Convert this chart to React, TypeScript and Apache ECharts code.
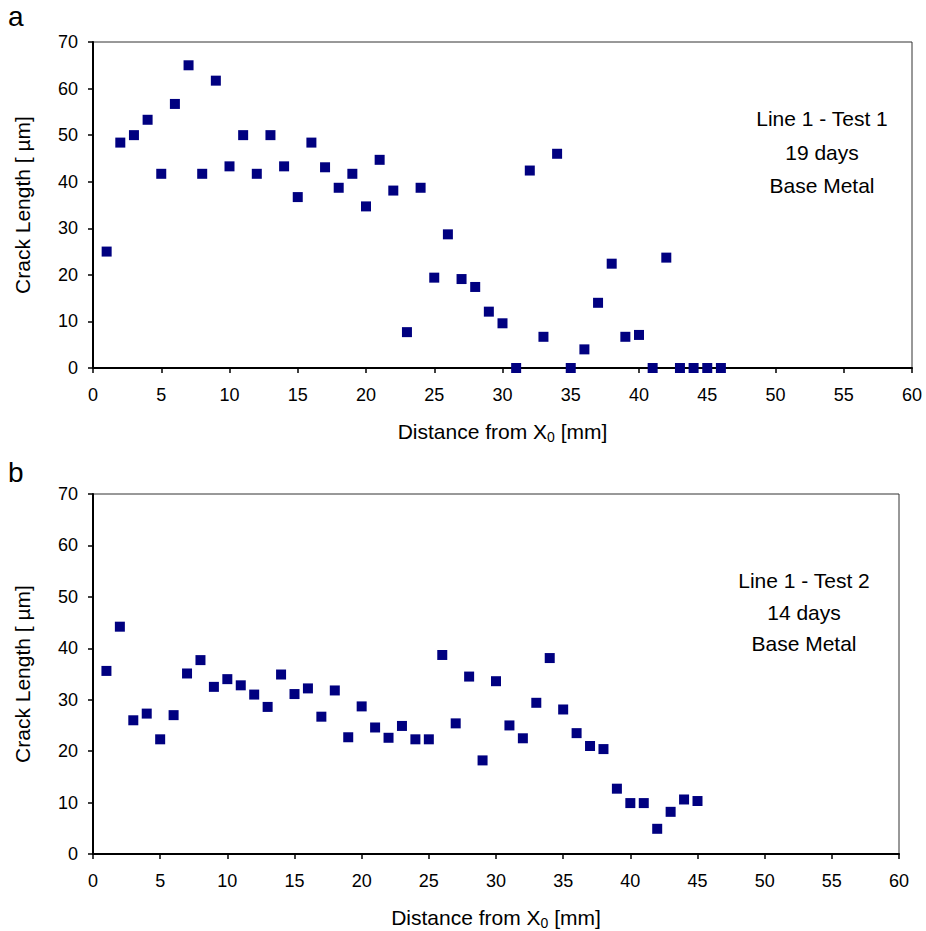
import React, { useEffect, useRef } from "react";
import * as echarts from "echarts";

const distanceA = [1,2,3,4,5,6,7,8,9,10,11,12,13,14,15,16,17,18,19,20,21,22,23,24,25,26,27,28,29,30,31,32,33,34,35,36,37,38,39,40,41,42,43,44,45,46];
const crackA = [25.0,48.4,50.0,53.3,41.7,56.7,65.0,41.7,61.7,43.3,50.0,41.7,50.0,43.3,36.7,48.4,43.1,38.7,41.7,34.7,44.7,38.1,7.7,38.7,19.4,28.7,19.1,17.4,12.1,9.6,0,42.4,6.7,46.0,0,4.0,14.0,22.4,6.7,7.1,0,23.7,0,0,0,0];

const distanceB = [1,2,3,4,5,6,7,8,9,10,11,12,13,14,15,16,17,18,19,20,21,22,23,24,25,26,27,28,29,30,31,32,33,34,35,36,37,38,39,40,41,42,43,44,45];
const crackB = [35.6,44.2,26.0,27.3,22.3,27.0,35.1,37.7,32.5,34.0,32.8,31.0,28.6,34.9,31.1,32.2,26.7,31.8,22.7,28.7,24.6,22.6,24.9,22.3,22.3,38.7,25.4,34.5,18.2,33.6,25.0,22.5,29.4,38.1,28.1,23.5,21.0,20.4,12.7,9.9,9.9,4.9,8.2,10.6,10.3];

const xTickStep = 5;
const yTickStep = 10;
const xMax = 60;
const yMax = 70;
const annotationA = ["Line 1 - Test 1", "19 days", "Base Metal"];
const annotationB = ["Line 1 - Test 2", "14 days", "Base Metal"];

const FONT = "Arial, 'Liberation Sans', Helvetica, sans-serif";

export default function App() {
  const ref = useRef<HTMLDivElement>(null);
  useEffect(() => {
    if (!ref.current) return;
    const chart = echarts.init(ref.current, null, { renderer: "svg" });
    const xAxisBase = (gridIndex: number) => ({
      type: "value" as const,
      gridIndex,
      min: 0,
      max: xMax,
      interval: xTickStep,
      name: "Distance from X{sub|0} [mm]",
      nameLocation: "middle" as const,
      nameGap: 50,
      nameTextStyle: {
        fontFamily: FONT,
        fontSize: 21,
        color: "#000",
        rich: {
          sub: { fontFamily: FONT, fontSize: 14, color: "#000", padding: [12, 0, 0, 0] },
        },
      },
      axisLine: { show: true, onZero: false, lineStyle: { color: "#000", width: 2 } },
      axisTick: { show: true, inside: false, length: 5, lineStyle: { color: "#000", width: 1.5 } },
      axisLabel: { fontFamily: FONT, fontSize: 18, color: "#000", margin: 18 },
      splitLine: { show: false },
    });
    const yAxisBase = (gridIndex: number) => ({
      type: "value" as const,
      gridIndex,
      min: 0,
      max: yMax,
      interval: yTickStep,
      name: "Crack Length [ µm]",
      nameLocation: "middle" as const,
      nameGap: 60,
      nameTextStyle: { fontFamily: FONT, fontSize: 21, color: "#000" },
      axisLine: { show: true, onZero: false, lineStyle: { color: "#000", width: 2 } },
      axisTick: { show: true, inside: false, length: 5, lineStyle: { color: "#000", width: 1.5 } },
      axisLabel: { fontFamily: FONT, fontSize: 18, color: "#000", margin: 15 },
      splitLine: { show: false },
    });
    const annot = (lines: string[], x: number, ys: number[]) =>
      lines.map((t, i) => ({
        type: "text" as const,
        x,
        y: ys[i],
        style: {
          text: t,
          font: `21px ${FONT}`,
          fill: "#000",
          align: "center",
          verticalAlign: "middle",
        },
      }));
    chart.setOption({
      animation: false,
      backgroundColor: "#fff",
      grid: [
        { left: 93, top: 42, width: 819, height: 326, show: true, borderColor: "#333", borderWidth: 1 },
        { left: 93, top: 494, width: 806, height: 360, show: true, borderColor: "#333", borderWidth: 1 },
      ],
      xAxis: [xAxisBase(0), xAxisBase(1)],
      yAxis: [yAxisBase(0), yAxisBase(1)],
      series: [
        {
          type: "scatter",
          xAxisIndex: 0,
          yAxisIndex: 0,
          symbol: "rect",
          symbolSize: 10,
          itemStyle: { color: "#000080", opacity: 1 },
          data: distanceA.map((d, i) => [d, crackA[i]]),
        },
        {
          type: "scatter",
          xAxisIndex: 1,
          yAxisIndex: 1,
          symbol: "rect",
          symbolSize: 10,
          itemStyle: { color: "#000080", opacity: 1 },
          data: distanceB.map((d, i) => [d, crackB[i]]),
        },
      ],
      graphic: [
        { type: "text", left: 8, top: 2, style: { text: "a", font: `28px ${FONT}`, fill: "#000" } },
        { type: "text", left: 8, top: 458, style: { text: "b", font: `28px ${FONT}`, fill: "#000" } },
        ...annot(annotationA, 822, [118, 152, 185]),
        ...annot(annotationB, 804, [580, 612, 643]),
      ],
    });
    return () => chart.dispose();
  }, []);
  return (
    <div
      ref={ref}
      style={{ position: "absolute", left: 0, top: 0, width: 926, height: 931 }}
    />
  );
}
